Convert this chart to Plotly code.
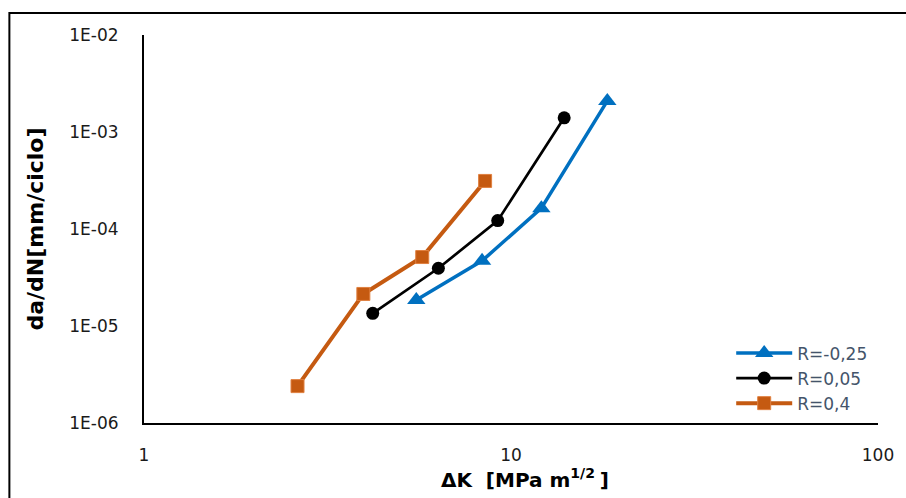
import plotly.graph_objects as go

# Data (log-log)
dk_r_m025 = [5.52, 8.34, 12.1, 18.3]
da_r_m025 = [1.85e-5, 4.7e-5, 1.64e-4, 2.09e-3]

dk_r_005 = [4.20, 6.34, 9.20, 13.96]
da_r_005 = [1.35e-5, 3.94e-5, 1.22e-4, 1.40e-3]

dk_r_04 = [2.62, 3.96, 5.73, 8.50]
da_r_04 = [2.4e-6, 2.14e-5, 5.14e-5, 3.13e-4]

series_names = ["R=-0,25", "R=0,05", "R=0,4"]
y_tickvals = [1e-6, 1e-5, 1e-4, 1e-3, 1e-2]
y_ticktext = ["1E-06", "1E-05", "1E-04", "1E-03", "1E-02"]
x_tickvals = [1, 10, 100]
x_ticktext = ["1", "10", "100"]

FONT = "DejaVu Sans"

fig = go.Figure()
fig.add_trace(go.Scatter(
    x=dk_r_m025, y=da_r_m025, name=series_names[0], mode="lines+markers",
    line=dict(color="#0070C0", width=3.5),
    marker=dict(symbol="triangle-up", size=16, color="#0070C0",
                line=dict(color="#0070C0", width=0))))
fig.add_trace(go.Scatter(
    x=dk_r_005, y=da_r_005, name=series_names[1], mode="lines+markers",
    line=dict(color="#000000", width=2.7),
    marker=dict(symbol="circle", size=13, color="#000000",
                line=dict(color="#000000", width=0))))
fig.add_trace(go.Scatter(
    x=dk_r_04, y=da_r_04, name=series_names[2], mode="lines+markers",
    line=dict(color="#C55A11", width=4),
    marker=dict(symbol="square", size=13, color="#C55A11",
                line=dict(color="#E08040", width=1))))

fig.update_layout(
    width=906, height=498,
    margin=dict(l=144, r=26, t=35, b=75),
    paper_bgcolor="white", plot_bgcolor="white",
    font=dict(family=FONT, size=17, color="#1a1a1a"),
    showlegend=True,
    legend=dict(
        x=0.800, y=0.115, xanchor="left", yanchor="middle",
        bgcolor="rgba(0,0,0,0)", borderwidth=0,
        font=dict(family=FONT, size=17, color="#44546A"),
        itemwidth=56, tracegroupgap=0,
    ),
    xaxis=dict(
        type="log", range=[0, 2],
        tickvals=x_tickvals, ticktext=x_ticktext,
        showgrid=False, zeroline=False,
        showline=True, linecolor="black", linewidth=2,
        ticks="", ticklabelstandoff=16,
        title=dict(text="<b>\u00a0\u00a0\u00a0\u00a0ΔK  [MPa m<sup>1/2 </sup>]</b>",
                   font=dict(family=FONT, size=20, color="#000000"),
                   standoff=7),
    ),
    yaxis=dict(
        type="log", range=[-6, -2],
        tickvals=y_tickvals, ticktext=y_ticktext,
        showgrid=False, zeroline=False,
        showline=True, linecolor="black", linewidth=2,
        ticks="", ticklabelstandoff=20,
        title=dict(text="<b>da/dN[mm/ciclo]</b>",
                   font=dict(family=FONT, size=22, color="#000000"),
                   standoff=20),
    ),
    shapes=[dict(type="rect", xref="paper", yref="paper",
                 x0=-0.1834, x1=2, y0=-1, y1=1.0567,
                 line=dict(color="black", width=2), fillcolor="rgba(0,0,0,0)",
                 layer="above")],
)

fig.write_html("out.html")
